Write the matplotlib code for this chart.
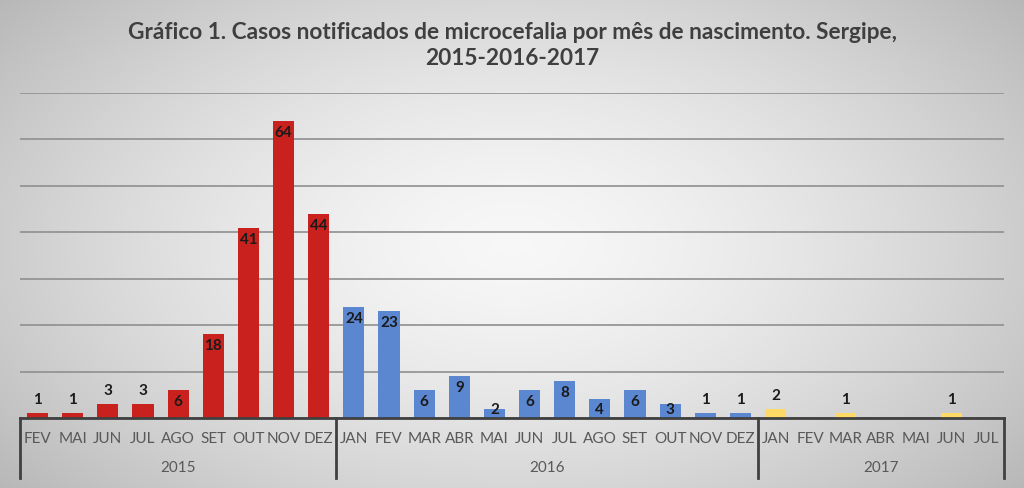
import numpy as np
import matplotlib
matplotlib.use("Agg")
import matplotlib.pyplot as plt
import matplotlib.transforms as mtransforms

# ── Data ──────────────────────────────────────────────────────────────────────
months_2015 = ["FEV", "MAI", "JUN", "JUL", "AGO", "SET", "OUT", "NOV", "DEZ"]
cases_2015 = [1, 1, 3, 3, 6, 18, 41, 64, 44]

months_2016 = ["JAN", "FEV", "MAR", "ABR", "MAI", "JUN", "JUL", "AGO", "SET", "OUT", "NOV", "DEZ"]
cases_2016 = [24, 23, 6, 9, 2, 6, 8, 4, 6, 3, 1, 1]

months_2017 = ["JAN", "FEV", "MAR", "ABR", "MAI", "JUN", "JUL"]
cases_2017 = [2, 0, 1, 0, 0, 1, 0]

years = ["2015", "2016", "2017"]
colors = ["#C9211E", "#5B87D0", "#FFD966"]

TITLE = "Gráfico 1. Casos notificados de microcefalia por mês de nascimento. Sergipe,\n2015-2016-2017"

plt.rcParams["font.family"] = ["Lato", "DejaVu Sans"]

fig = plt.figure(figsize=(10.24, 4.88), dpi=100)

# ── Background gradient ───────────────────────────────────────────────────────
bg = fig.add_axes([0, 0, 1, 1], zorder=0)
yy, xx = np.mgrid[-1:1:300j, -1:1:600j]
r = np.sqrt((xx * 0.95) ** 2 + (yy * 0.8) ** 2)
shade = np.clip(0.97 - 0.18 * r ** 1.5, 0, 1)
bg.imshow(np.dstack([shade] * 3), aspect="auto", extent=[0, 1, 0, 1])
bg.axis("off")

ax = fig.add_axes([20 / 1024, 70 / 488, 984 / 1024, 325 / 488], zorder=1)
ax.set_facecolor("none")

groups = [(months_2015, cases_2015), (months_2016, cases_2016), (months_2017, cases_2017)]
n_total = sum(len(m) for m, _ in groups)

ax.set_xlim(0, n_total)
ax.set_ylim(0, 70)
ax.set_yticks(range(0, 71, 10))
ax.set_yticklabels([])
ax.tick_params(left=False, bottom=False, labelbottom=False)
ax.grid(axis="y", color="#8f8f8f", linewidth=1.2)
ax.set_axisbelow(True)
for s in ["left", "right", "top"]:
    ax.spines[s].set_visible(False)
ax.spines["bottom"].set_color("#404040")
ax.spines["bottom"].set_linewidth(2)

trans = mtransforms.blended_transform_factory(ax.transData, ax.transAxes)

start = 0
for gi, (months, cases) in enumerate(groups):
    x = np.arange(len(months)) + start + 0.5
    ax.bar(x, cases, width=0.6, color=colors[gi], zorder=2)
    for xi, v, m in zip(x, cases, months):
        ax.text(xi, -0.065, m, transform=trans, ha="center", va="center",
                fontsize=11, color="#595959")
        if v == 0:
            continue
        above = v <= 1 or (v < 4 and years[gi] != "2016")
        ly = v + 2.8 if above else max(v - 2.6, 1.8)
        ax.text(xi, ly, str(v), ha="center", va="center", fontsize=11,
                fontweight="bold", color="#1a1a1a", zorder=3)
    ax.text(start + len(months) / 2, -0.155, years[gi], transform=trans,
            ha="center", va="center", fontsize=11, color="#595959")
    start += len(months)

# group separators below the axis
bounds = [0]
for months, _ in groups:
    bounds.append(bounds[-1] + len(months))
for b in bounds:
    ax.plot([b, b], [0, -0.185], transform=trans, color="#404040",
            linewidth=2, clip_on=False, zorder=3)

fig.text(0.5, 0.906, TITLE, ha="center", va="center", fontsize=16.3,
         fontweight="bold", color="#3f3f3f", linespacing=1.3)

fig.savefig("out.png", dpi=100)
